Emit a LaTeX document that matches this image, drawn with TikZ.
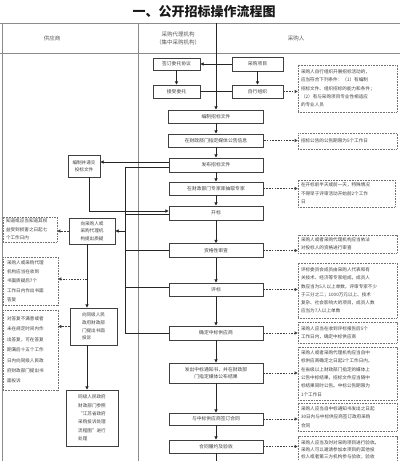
\documentclass[tikz,border=0pt]{standalone}
\usepackage{fontspec}
\setmainfont{Noto Sans CJK SC}
\usetikzlibrary{arrows.meta,calc}
\begin{document}
\begin{tikzpicture}[x=1pt,y=-1pt,
 every node/.style={font=\fontsize{4.8}{6}\selectfont, text=black!75},
 fbox/.style={draw=black!75, line width=0.9pt, fill=white, inner sep=0.5pt, align=center},
 lbox/.style={fbox, align=left, font=\fontsize{4.8}{8}\selectfont},
 note/.style={draw=black!55, line width=0.6pt, dash pattern=on 0.8pt off 0.8pt, align=left, inner sep=0pt, font=\fontsize{4.6}{8.3}\selectfont},
 flow/.style={draw=black!85, line width=0.8pt},
 arr/.style={flow, -{Triangle[length=3.2pt,width=3.2pt]}},
 darr/.style={draw=black!75, line width=0.7pt, dash pattern=on 1.6pt off 1.2pt, -{Triangle[length=3pt,width=3pt]}},
 gridline/.style={draw=black!45, line width=0.6pt}]

\useasboundingbox (0,0) rectangle (400,461);
\fill[white] (0,0) rectangle (400,461);

% title
\node[font=\fontsize{13}{15}\selectfont\bfseries, text=black!90] (title) at (204,11.5) {一、公开招标操作流程图};

% table grid
\coordinate (tl) at (0,23);
\coordinate (tr) at (400,23);
\coordinate (hl) at (0,53);
\coordinate (hr) at (400,53);
\coordinate (c1t) at (138,23);
\coordinate (c1b) at (138,461);
\coordinate (lbt) at (2,23);
\coordinate (lbb) at (2,461);
\draw[gridline] (tl) -- (tr);
\draw[gridline] (hl) -- (hr);
\draw[gridline] (c1t) -- (c1b);
\draw[gridline] (lbt) -- (lbb);

% header
\node[font=\fontsize{5.5}{7}\selectfont, text=black!65] (h1) at (52,38) {供应商};
\node[font=\fontsize{5.5}{8}\selectfont, text=black!65, align=center] (h2) at (178,38) {采购代理机构\\（集中采购机构）};
\node[font=\fontsize{5.5}{7}\selectfont, text=black!65] (h3) at (296,38) {采购人};

% middle / purchaser boxes
\node[fbox, minimum width=47pt, minimum height=12pt] (sign) at (176.5,64) {签订委托协议};
\node[fbox, minimum width=47pt, minimum height=13pt] (acc) at (176.5,91.5) {接受委托};
\node[fbox, minimum width=51pt, minimum height=14pt] (proj) at (257.5,64) {采购项目};
\node[fbox, minimum width=51pt, minimum height=13pt] (self) at (257.5,91.5) {自行组织};
\node[fbox, minimum width=95pt, minimum height=13pt] (prep) at (216,116.5) {编制招标文件};
\node[fbox, minimum width=95pt, minimum height=13pt] (pub) at (216,140.5) {在财政部门指定媒体公告信息};
\node[fbox, minimum width=94pt, minimum height=14pt] (issue) at (216,165) {发布招标文件};
\node[fbox, minimum width=94pt, minimum height=13pt] (expert) at (216,188.5) {在财政部门专家库抽取专家};
\node[fbox, minimum width=94pt, minimum height=14pt] (open) at (216,213) {开标};
\node[fbox, minimum width=94pt, minimum height=14pt] (qual) at (216,250.5) {资格性审查};
\node[fbox, minimum width=94pt, minimum height=13pt] (eval) at (216,289.5) {评标};
\node[fbox, minimum width=94pt, minimum height=14pt] (award) at (216,333) {确定中标供应商};
\node[fbox, minimum width=94pt, minimum height=20pt, font=\fontsize{4.8}{7.5}\selectfont] (notice) at (216,373) {发出中标通知书，并在财政部\\门指定媒体公布结果};
\node[fbox, minimum width=94pt, minimum height=12pt] (contract) at (216,419) {与中标供应商签订合同};
\node[fbox, minimum width=94pt, minimum height=13pt] (perf) at (216,446.5) {合同履约及验收};

% supplier boxes
\node[fbox, minimum width=32pt, minimum height=22pt, font=\fontsize{4.6}{7.5}\selectfont] (bid) at (84,166) {编制并递交\\投标文件};
\node[lbox, minimum width=46pt, minimum height=26pt, font=\fontsize{4.6}{7.6}\selectfont] (query) at (92,231) {向采购人或\\采购代理机\\构提出质疑};
\node[lbox, minimum width=47pt, minimum height=37pt, font=\fontsize{4.6}{7.8}\selectfont] (compl) at (93.5,326.5) {向同级人民\\政府财政部\\门提出书面\\投诉};
\node[lbox, minimum width=52pt, minimum height=56pt, font=\fontsize{4.6}{8.4}\selectfont] (handle) at (92,418) {同级人民政府\\财政部门参照\\“江苏省政府\\采购投诉处理\\流程图”进行\\处理};

% supplier notes
\node[note, minimum width=54pt, minimum height=25pt, text width=48pt] (ln1) at (30,229.5) {知道或应当知道其权\\益受到损害之日起七\\个工作日内};
\node[note, minimum width=55pt, minimum height=48pt, text width=47pt, font=\fontsize{4.6}{9.3}\selectfont] (ln2) at (30.5,281) {采购人或采购代理\\机构应当在收到\\书面质疑后7个\\工作日内作出书面\\答复};
\node[note, minimum width=55pt, minimum height=80pt, text width=47pt, font=\fontsize{4.6}{10.4}\selectfont] (ln3) at (30.5,350) {对答复不满意或者\\未在规定时间内作\\出答复，可在答复\\期满后十五个工作\\日内向同级人民政\\府财政部门提出书\\面投诉};

% purchaser notes
\node[note, minimum width=99pt, minimum height=47pt, text width=93pt] (rn1) at (347.5,88.5) {采购人自行组织开展招标活动的，\\应当符合下列条件：（1）有编制\\招标文件、组织招标的能力和条件；\\（2）有与采购项目专业性相适应\\的专业人员};
\node[note, minimum width=99pt, minimum height=16pt, text width=93pt] (rn2) at (347.5,141) {招标公告的公告期限为5个工作日};
\node[note, minimum width=97pt, minimum height=27pt, text width=91pt] (rn3) at (346.5,193.5) {在开标前半天或前一天，特殊情况\\不得早于评审活动开始前2个工作\\日};
\node[note, minimum width=99pt, minimum height=18pt, text width=93pt] (rn4) at (347.5,244) {采购人或者采购代理机构应当依法\\对投标人的资格进行审查};
\node[note, minimum width=99pt, minimum height=55pt, text width=93pt] (rn5) at (347.5,290.5) {评标委员会成员由采购人代表和有\\关技术、经济等专家组成，成员人\\数应当为5人以上单数，评审专家不少\\于三分之二；1000万元以上、技术\\复杂、社会影响大的项目，成员人数\\应当为7人以上单数};
\node[note, minimum width=99pt, minimum height=21pt, text width=93pt] (rn6) at (347.5,332.5) {采购人应当在收到评标报告后5个\\工作日内，确定中标供应商};
\node[note, minimum width=99pt, minimum height=53pt, text width=93pt] (rn7) at (347.5,373.5) {采购人或者采购代理机构应当自中\\标供应商确定之日起2个工作日内，\\在省级以上财政部门指定的媒体上\\公告中标结果，招标文件应当随中\\标结果同时公告。中标公告期限为\\1个工作日};
\node[note, minimum width=99pt, minimum height=28pt, text width=93pt] (rn8) at (347.5,417) {采购人应当自中标通知书发出之日起\\30日内与中标供应商签订政府采购\\合同};
\node[note, minimum width=99pt, minimum height=26pt, text width=93pt, font=\fontsize{4.6}{7.2}\selectfont] (rn9) at (347.5,449.5) {采购人应当及时对采购项目进行验收。\\采购人可以邀请参加本项目的其他投\\标人或者第三方机构参与验收，验收};

% top flow
\coordinate (c2t) at (216,23);
\draw[arr] (c2t) -- (prep.north);
\draw[arr] (proj.west) -- (sign.east);
\draw[arr] (sign.south) -- (acc.north);
\draw[arr] (proj.south) -- (self.north);
\draw[flow] (acc.east) -- (self.west);

% main flow
\draw[arr] (prep.south) -- (pub.north);
\draw[arr] (pub.south) -- (issue.north);
\draw[arr] (issue.south) -- (expert.north);
\draw[arr] (expert.south) -- (open.north);
\draw[arr] (open.south) -- (qual.north);
\draw[arr] (qual.south) -- (eval.north);
\draw[arr] (eval.south) -- (award.north);
\draw[arr] (award.south) -- (notice.north);
\draw[arr] (notice.south) -- (contract.north);
\draw[arr] (contract.south) -- (perf.north);
\coordinate (endb) at (216,461);
\draw[flow] (perf.south) -- (endb);

% supplier side flow
\draw[arr] ([yshift=3pt]issue.west) -- ([yshift=3pt]issue.west -| bid.east);
\coordinate (bidout) at (89,177);
\draw[arr] (bidout) |- ([yshift=2pt]open.west);
\coordinate (qtop) at (125,167);
\coordinate (qbot) at (125,333);
\draw[flow] (qtop) -- (qbot);
\draw[flow] ([yshift=-2pt]issue.west) -- (qtop);
\draw[flow] ([yshift=-1pt]open.west) -- ([yshift=-1pt]open.west -| qtop);
\draw[flow] (qual.west) -- (qual.west -| qtop);
\draw[flow] ([yshift=2pt]eval.west) -- ([yshift=2pt]eval.west -| qtop);
\draw[flow] (award.west) -- (award.west -| qtop);
\draw[arr] (query.east -| qtop) -- (query.east);

\coordinate (qs) at (87,244);
\coordinate (qc) at (87,279);
\draw[arr] (qs) -- (qs |- compl.north);
\coordinate (cs) at (87,345);
\draw[arr] (cs) -- (cs |- handle.north);

% dotted arrows to notes
\draw[darr] (query.west) -- (query.west -| ln1.east);
\draw[darr] (qc) -- (qc -| ln2.east);
\draw[darr] (compl.west) -- (compl.west -| ln3.east);
\draw[darr] (self.east) -- (self.east -| rn1.west);
\draw[darr] (pub.east) -- (pub.east -| rn2.west);
\draw[darr] (expert.east) -- (expert.east -| rn3.west);
\draw[darr] (qual.east) -- (qual.east -| rn4.west);
\draw[darr] (eval.east) -- (eval.east -| rn5.west);
\draw[darr] (award.east) -- (award.east -| rn6.west);
\draw[darr] (notice.east) -- (notice.east -| rn7.west);
\draw[darr] (contract.east) -- (contract.east -| rn8.west);
\draw[darr] (perf.east) -- (perf.east -| rn9.west);
\end{tikzpicture}
\end{document}
